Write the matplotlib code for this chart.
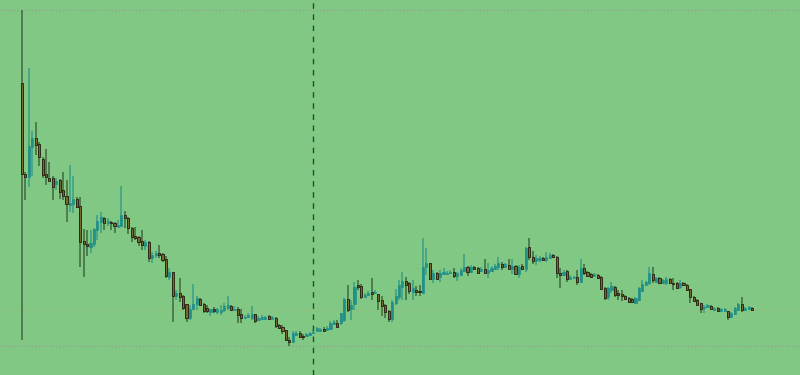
import matplotlib
matplotlib.use("Agg")
import matplotlib.pyplot as plt
from matplotlib.patches import Rectangle

# OHLC values (arbitrary price units)
opens = [292,201,198,228,237,231,216,201,197,197,191,195,185,179,170,171,176,169,134,131,
         128,131,145,153,157,152,153,152,148,149,160,157,147,139,138,134,129,133,117,120,
         122,121,116,98,103,79,82,79,71,57,66,71,76,71,67,63,66,63,63,65,
         67,69,65,66,61,57,58,57,61,55,56,56,59,56,57,50,48,45,35,33,
         40,42,39,39,40,42,44,44,46,45,46,51,52,52,55,76,66,71,90,89,
         78,80,83,82,81,75,70,64,56,72,78,88,94,92,83,85,84,82,108,112,
         96,102,98,101,101,102,103,99,100,104,108,103,108,107,104,106,102,104,106,108,
         111,108,110,106,109,101,109,106,128,118,114,115,117,115,117,120,118,102,100,104,
         96,97,98,93,107,103,101,99,100,98,87,78,85,88,82,81,79,77,76,72,
         75,84,90,92,101,93,97,92,92,96,92,92,88,92,90,86,78,75,72,67,
         68,69,65,67,64,64,64,58,61,65,71,65,66,67]
highs = [365,203,307,244,253,233,218,226,213,199,197,196,203,195,210,199,178,178,146,145,
         145,147,160,163,158,157,154,153,155,189,164,158,148,148,139,145,135,134,123,124,
         130,122,119,107,103,85,97,80,71,70,91,79,77,72,70,66,68,67,70,72,
         79,70,69,68,66,60,62,69,61,59,60,59,60,59,58,51,50,45,38,44,
         44,44,41,42,43,45,48,47,48,49,54,55,55,62,77,90,75,93,95,91,
         82,84,97,85,81,79,71,65,75,86,95,103,98,93,95,89,90,137,127,112,
         105,103,105,107,104,105,107,103,107,121,109,110,109,108,108,116,112,109,111,118,
         113,112,116,116,110,110,111,128,137,124,120,119,118,123,122,121,119,107,105,105,
         100,99,105,116,111,104,102,102,101,99,88,88,93,89,85,85,80,78,77,78,
         88,95,94,108,108,98,98,96,98,97,97,93,95,93,91,86,79,76,72,70,
         71,70,68,68,67,67,64,63,68,72,78,68,69,68]
lows = [35,175,188,199,220,209,197,190,193,175,185,176,175,153,163,162,167,108,98,119,
        122,128,135,142,145,149,145,142,148,148,147,141,133,135,129,125,125,113,112,117,
        117,113,97,95,53,75,73,65,53,55,65,65,69,62,62,59,62,61,60,63,
        65,64,64,52,52,56,57,55,52,54,55,55,55,55,47,46,41,34,29,32,
        39,37,35,38,39,41,43,43,43,44,45,50,47,50,53,63,55,65,85,76,
        77,79,75,81,65,59,57,53,53,70,75,75,75,81,75,79,79,81,100,95,
        92,95,93,100,100,101,97,94,99,103,99,102,105,101,103,101,97,103,105,105,
        105,107,105,101,100,97,105,103,115,111,110,113,114,113,116,117,97,87,99,93,
        95,96,90,92,100,98,97,98,96,85,75,75,82,78,75,74,75,72,72,71,
        74,83,89,90,92,92,91,91,90,91,85,86,86,89,84,72,73,69,62,62,
        67,65,64,63,63,63,55,57,60,64,63,64,65,64]
closes = [201,198,229,237,230,218,200,198,194,188,194,183,179,171,172,176,168,133,131,129,
          132,146,154,158,152,154,152,149,150,160,157,147,138,137,133,130,133,117,120,122,
          120,115,99,103,79,82,78,67,57,66,71,77,70,64,64,66,64,66,65,69,
          70,65,66,60,57,58,60,61,54,57,58,58,56,58,49,47,44,35,33,42,
          42,38,38,41,42,43,47,46,44,47,52,53,48,62,76,65,70,88,88,78,
          80,82,81,83,74,69,63,56,73,79,90,94,90,84,87,83,83,108,112,96,
          102,96,102,103,102,103,99,102,105,108,103,108,106,102,106,102,105,107,109,112,
          108,111,106,109,101,108,106,127,118,114,117,117,115,118,120,118,102,100,103,96,
          98,98,93,107,102,99,98,101,97,86,77,87,89,80,80,79,76,73,73,77,
          87,91,93,102,95,97,92,95,96,92,91,87,92,90,85,78,74,70,66,68,
          70,66,67,64,66,66,58,62,67,71,65,67,68,65]

grid_levels = [29, 365]      # dotted horizontal grid lines
marker_index = 85            # dashed vertical marker (candle index)

BG = "#80c883"
BULL = "#1d8d88"
BEAR = "#7a6630"

n = len(closes)
fig = plt.figure(figsize=(8, 3.75), dpi=100)
fig.patch.set_facecolor(BG)
ax = fig.add_axes([0, 0, 1, 1])
ax.set_facecolor(BG)

w = 0.62
for i in range(n):
    o, h, l, c = opens[i], highs[i], lows[i], closes[i]
    bull = c >= o
    if bull:
        ax.vlines(i, l, h, color=BULL, alpha=0.7, lw=1.1, zorder=2)
        ax.add_patch(Rectangle((i - w / 2, o), w, max(c - o, 0.8),
                               facecolor=BULL, edgecolor=BULL, lw=0.5, alpha=0.9, zorder=3))
    else:
        ax.vlines(i, l, h, color="#1a2a14", alpha=0.6, lw=1.1, zorder=2)
        ax.add_patch(Rectangle((i - w / 2, c), w, max(o - c, 0.8),
                               facecolor=BEAR, edgecolor="#2a2412", lw=0.7, alpha=0.95, zorder=3))

for g in grid_levels:
    ax.axhline(g, color="#9a9a9a", lw=1.0, ls=(0, (1, 1.5)), alpha=0.8, zorder=1)

ax.axhline(closes[-1], color="#c8a36a", lw=0.8, ls=(0, (1, 2)), alpha=0.6, zorder=1)
ax.axvline(marker_index, color="#2e4a2e", lw=1.0, ls=(0, (4, 4)), zorder=4)

s = 730 / (n - 1)
ax.set_xlim(-22 / s, (n - 1) + 48 / s)
ax.set_ylim(0, 375)
ax.set_xticks([])
ax.set_yticks([])
for sp in ax.spines.values():
    sp.set_visible(False)

fig.savefig("out.png", dpi=100, facecolor=BG)
